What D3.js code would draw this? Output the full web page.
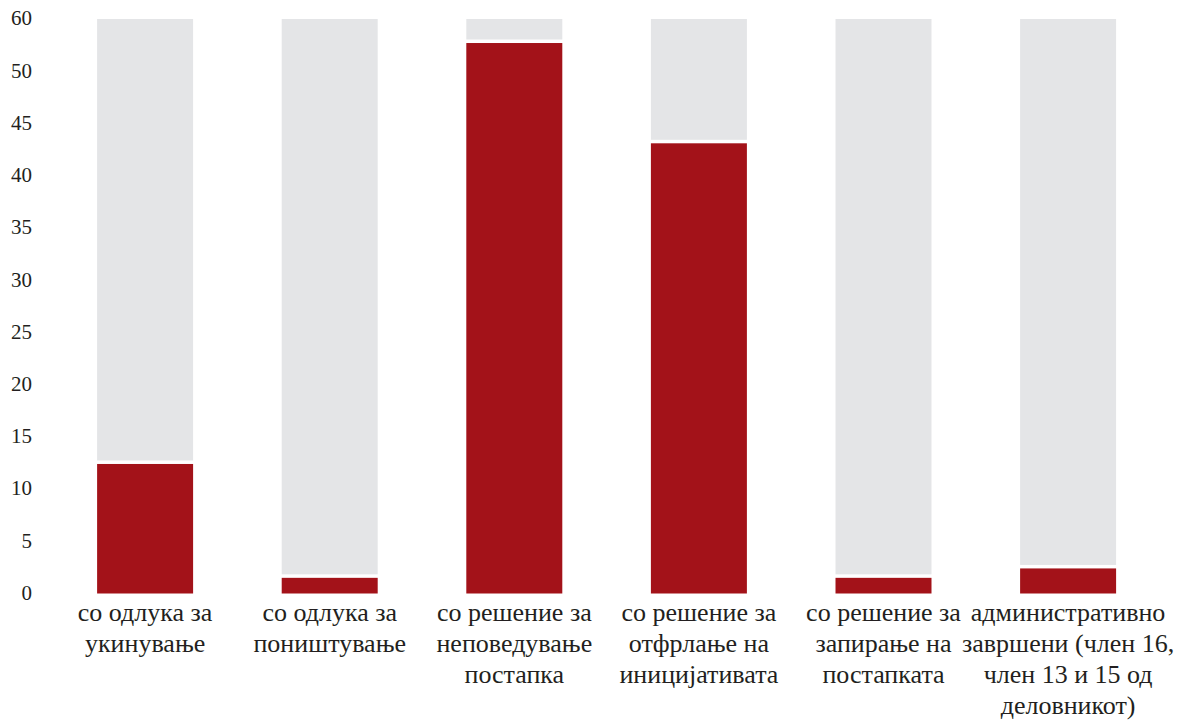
<!DOCTYPE html>
<html>
<head>
<meta charset="utf-8">
<script src="https://cdn.jsdelivr.net/npm/d3@7"></script>
<style>
  html, body { margin: 0; padding: 0; background: #fff; }
  svg { display: block; }
  svg text { font-family: Tinos, "Liberation Serif", FreeSerif, serif; }
</style>
</head>
<body>
<svg id="chart" width="1193" height="720"></svg>
<script>
// ---- data ----
const categories = [
  "со одлука за\nукинување",
  "со одлука за\nпоништување",
  "со решение за\nнеповедување\nпостапка",
  "со решение за\nотфрлање на\nиницијативата",
  "со решение за\nзапирање на\nпостапката",
  "административно\nзавршени (член 16,\nчлен 13 и 15 од\nделовникот)"
];
const values = [12.4, 1.5, 52.7, 43.1, 1.5, 2.4];
const tickValues = [0, 5, 10, 15, 20, 25, 30, 35, 40, 45, 50, 55];
const tickLabels = ["0", "5", "10", "15", "20", "25", "30", "35", "40", "45", "50", "60"];
const axisMax = 55;

// ---- layout ----
const TEXT = "#231f20";
const FONT = 'Tinos, "Liberation Serif", FreeSerif, serif';
const svg = d3.select("#chart");
const margin = { left: 52.8, right: 32.6, top: 19, bottom: 126.5 };
const W = 1193, H = 720;
const gap = 3.5;

const x = d3.scaleBand()
  .domain(categories)
  .range([margin.left, W - margin.right])
  .paddingInner(0.48)
  .paddingOuter(0.24);

const y = d3.scaleLinear()
  .domain([0, axisMax])
  .range([H - margin.bottom, margin.top]);

// background (remainder) bars
svg.append("g").selectAll("rect.bg")
  .data(values)
  .join("rect")
  .attr("class", "bg")
  .attr("x", (d, i) => x(categories[i]))
  .attr("width", x.bandwidth())
  .attr("y", y(axisMax))
  .attr("height", d => Math.max(0, y(d) - gap - y(axisMax)))
  .attr("fill", "#e4e5e7");

// value bars
svg.append("g").selectAll("rect.val")
  .data(values)
  .join("rect")
  .attr("class", "val")
  .attr("x", (d, i) => x(categories[i]))
  .attr("width", x.bandwidth())
  .attr("y", d => y(d))
  .attr("height", d => y(0) - y(d))
  .attr("fill", "#a31219");

// y axis
const yAxis = d3.axisLeft(y)
  .tickValues(tickValues)
  .tickFormat((d, i) => tickLabels[i])
  .tickSize(0)
  .tickPadding(0);
const gy = svg.append("g")
  .attr("transform", "translate(32,0)")
  .call(yAxis)
  .attr("font-family", FONT)
  .attr("font-size", 21);
gy.select(".domain").remove();
gy.selectAll("text")
  .attr("dy", "0.28em")
  .attr("fill", TEXT);

// x axis labels
const xAxis = d3.axisBottom(x).tickSize(0).tickFormat("");
const gx = svg.append("g")
  .attr("transform", `translate(0,${y(0)})`)
  .call(xAxis)
  .attr("font-family", FONT)
  .attr("font-size", 26);
gx.select(".domain").remove();
gx.selectAll(".tick text").remove();
gx.selectAll(".tick").each(function(d) {
  const t = d3.select(this).append("text")
    .attr("text-anchor", "middle")
    .attr("fill", TEXT)
    .attr("y", 27);
  d.split("\n").forEach((line, i) => {
    t.append("tspan")
      .attr("x", 0)
      .attr("dy", i === 0 ? 0 : 31)
      .text(line);
  });
});
</script>
</body>
</html>
